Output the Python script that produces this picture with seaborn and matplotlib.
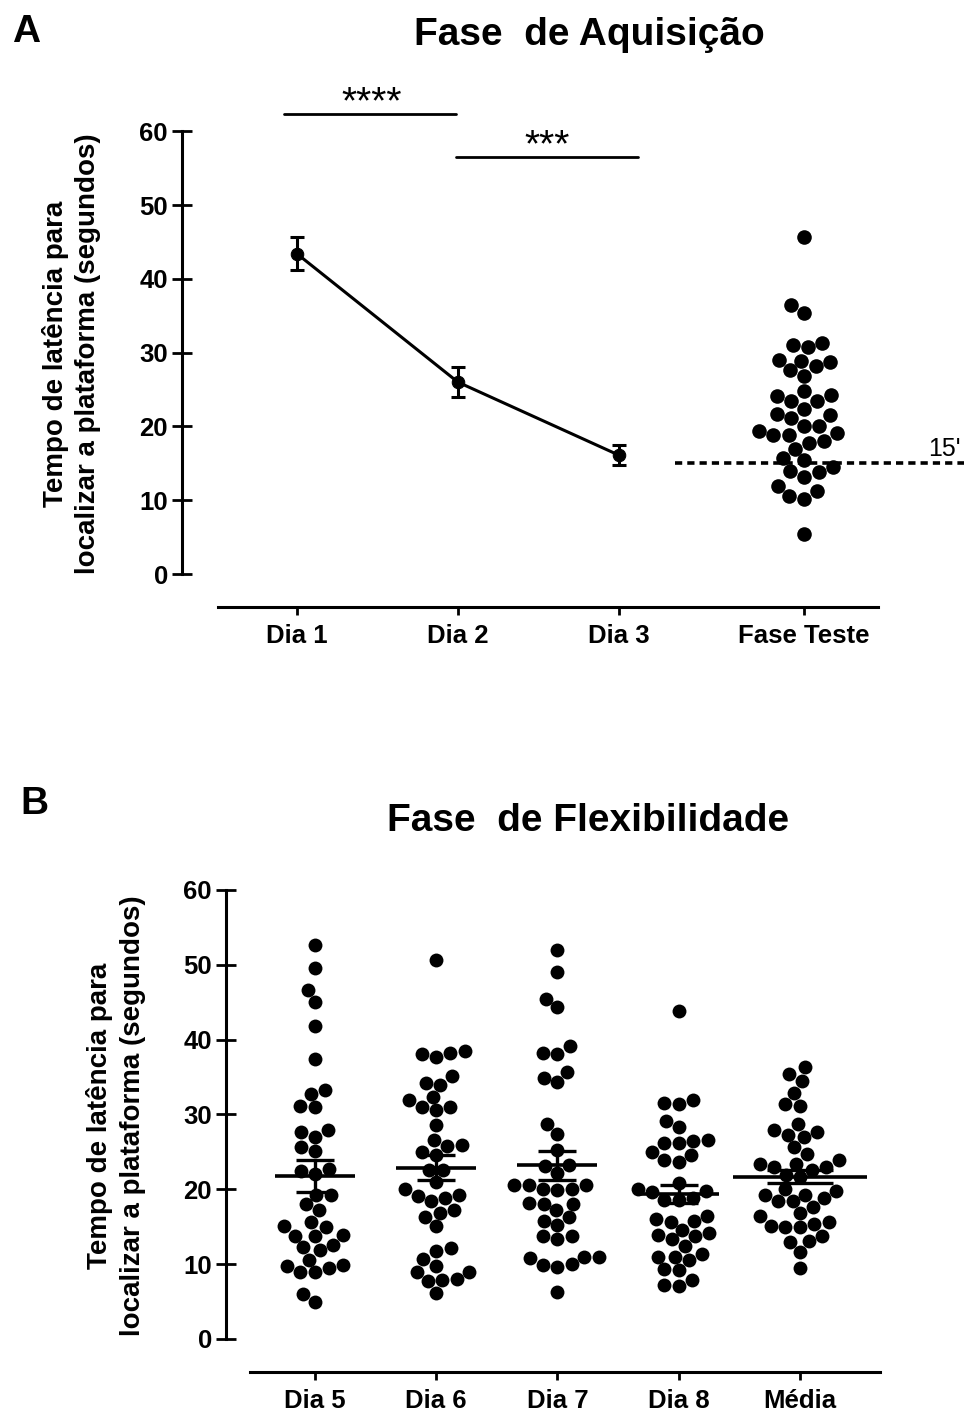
import numpy as np
import pandas as pd
import matplotlib
matplotlib.use("Agg")
import matplotlib.pyplot as plt
import seaborn as sns

# ---------------- data ----------------
acq_days = ["Dia 1", "Dia 2", "Dia 3"]
acq_mean = [43.4, 26.0, 16.1]
acq_sem = [2.25, 2.05, 1.35]
teste_label = "Fase Teste"
fase_teste = [45.7, 36.4, 35.4, 31.0, 30.7, 31.3, 28.9, 28.2, 26.9, 27.6, 28.7,
              29.0, 24.2, 23.4, 23.4, 24.1, 24.8, 21.7, 21.1, 21.5, 22.3, 20.0,
              20.1, 19.1, 18.8, 18.8, 19.4, 17.8, 18.0, 17.0, 15.4, 15.7, 13.9,
              13.2, 13.8, 14.5, 11.9, 10.6, 10.2, 11.2, 5.4]
criterio = 15

flex_days = ["Dia 5", "Dia 6", "Dia 7", "Dia 8", "Média"]
dia5 = [52.7, 49.6, 46.6, 45.0, 41.8, 37.4, 32.8, 33.3, 31.0, 31.1, 27.0, 27.9,
        27.6, 25.1, 25.6, 22.4, 22.1, 22.7, 19.3, 18.0, 19.3, 17.2, 15.1, 15.0,
        15.6, 13.9, 13.8, 13.8, 12.6, 11.9, 12.3, 10.6, 9.8, 9.0, 8.9, 9.5, 9.9,
        5.0, 6.0]
dia6 = [50.7, 38.2, 37.7, 38.1, 38.5, 34.2, 34.0, 35.1, 32.4, 31.0, 30.6, 31.0,
        31.9, 28.6, 25.9, 25.8, 26.6, 24.6, 25.0, 22.6, 22.6, 21.0, 19.3, 18.9,
        18.4, 19.1, 20.1, 16.9, 15.1, 16.3, 17.2, 12.1, 10.7, 9.8, 11.8, 8.9,
        7.9, 6.2, 7.7, 8.0, 9.0]
dia7 = [52.0, 49.1, 45.4, 44.3, 39.1, 38.1, 38.2, 34.9, 34.3, 35.7, 28.7, 27.4,
        25.3, 23.1, 23.3, 22.2, 20.6, 20.1, 19.9, 20.1, 20.6, 20.6, 18.1, 17.2,
        18.1, 18.2, 15.8, 16.3, 15.2, 13.8, 13.3, 13.7, 10.9, 10.8, 9.9, 9.6,
        10.0, 10.9, 6.3]
dia8 = [43.8, 31.6, 31.4, 32.0, 28.3, 29.1, 26.2, 26.6, 26.5, 26.2, 25.0, 23.9,
        23.7, 24.6, 19.8, 20.0, 20.8, 19.7, 18.8, 18.6, 18.6, 16.1, 16.4, 15.7,
        15.8, 14.2, 13.7, 13.9, 14.6, 13.3, 12.4, 11.4, 11.0, 10.5, 11.0, 9.3,
        9.2, 7.9, 7.1, 7.2]
media = [36.3, 35.4, 34.5, 32.9, 31.4, 31.2, 28.7, 27.7, 27.0, 27.3, 27.9, 25.6,
         24.7, 23.4, 23.0, 22.6, 23.0, 23.4, 23.9, 21.9, 21.6, 20.0, 19.3, 19.3,
         19.8, 18.4, 18.4, 18.9, 17.6, 16.4, 16.8, 15.6, 15.1, 14.9, 15.0, 15.4,
         13.1, 12.9, 13.7, 11.6, 9.5]
flex_mean = [21.8, 22.9, 23.2, 19.4, 21.7]
flex_sem = [2.1, 1.65, 1.9, 1.2, 0.9]

yticks = [0, 10, 20, 30, 40, 50, 60]
ylabel = "Tempo de latência para\nlocalizar a plataforma (segundos)"

# ---------------- style ----------------
sns.set_style("ticks")
plt.rcParams["font.family"] = ["Liberation Sans", "DejaVu Sans"]
for k in ("text.color", "axes.labelcolor", "xtick.color", "ytick.color",
          "axes.edgecolor"):
    plt.rcParams[k] = "black"
plt.rcParams["axes.linewidth"] = 2.2

W, H = 964, 1414
fig = plt.figure(figsize=(W / 100, H / 100), dpi=100)
TICK_FS = 18.5
LAB_FS = 20
TITLE_FS = 28

acq_x = [1, 2, 3]
teste_x = 4.15

# ---------------- panel A ----------------
axA = fig.add_axes([182 / W, 1 - 574 / H, (964 - 182) / W, 487 / H])
sns.lineplot(x=acq_x, y=acq_mean, ax=axA, color="black", lw=2.2,
             marker="o", markersize=9, markeredgecolor="black")
axA.errorbar(acq_x, acq_mean, yerr=acq_sem, fmt="none", ecolor="black",
             elinewidth=2.2, capsize=5, capthick=2.2, zorder=4)
sns.swarmplot(x=np.full(len(fase_teste), teste_x), y=fase_teste,
              native_scale=True, orient="x", ax=axA, color="black", size=10.5,
              warn_thresh=1)
axA.hlines(criterio, 3.35, 5.143, colors="black", lw=2.6,
           linestyles=(0, (2.0, 1.4)), clip_on=False, zorder=1)
axA.text(5.12, criterio + 1.0, "15'", ha="right", va="baseline",
         fontsize=18, clip_on=False)

# significance bars
axA.plot([0.92, 1.99], [62.3, 62.3], color="black", lw=2.0, clip_on=False)
axA.plot([1.99, 3.12], [56.5, 56.5], color="black", lw=2.0, clip_on=False)
axA.text(1.465, 62.4, "****", ha="center", va="baseline", fontsize=28,
         clip_on=False)
axA.text(2.555, 56.6, "***", ha="center", va="baseline", fontsize=28,
         clip_on=False)

axA.set_xlim(0.286, 5.143)
axA.set_ylim(0, 66)
axA.set_xticks(acq_x + [teste_x])
axA.set_xticklabels(acq_days + [teste_label])
axA.set_yticks(yticks)
axA.set_xlabel("")
axA.set_ylabel("")

# ---------------- panel B ----------------
axB = fig.add_axes([226 / W, 75 / H, (900 - 226) / W, 464 / H])
df = pd.DataFrame({
    "dia": (["Dia 5"] * len(dia5) + ["Dia 6"] * len(dia6) + ["Dia 7"] * len(dia7)
            + ["Dia 8"] * len(dia8) + ["Média"] * len(media)),
    "tempo": dia5 + dia6 + dia7 + dia8 + media,
})
sns.swarmplot(data=df, x="dia", y="tempo", order=flex_days, ax=axB,
              color="black", size=10, warn_thresh=1)
mean_half = [0.33, 0.33, 0.33, 0.33, 0.55]
cap_pt = [14, 14, 14, 14, 24]
for i in range(len(flex_days)):
    axB.errorbar(i, flex_mean[i], yerr=flex_sem[i], fmt="none", ecolor="black",
                 elinewidth=2.4, capsize=cap_pt[i], capthick=2.4, zorder=5)
    axB.hlines(flex_mean[i], i - mean_half[i], i + mean_half[i],
               colors="black", lw=2.6, zorder=5)
axB.set_xlim(-0.734, 4.825)
axB.set_ylim(0, 62)
axB.set_yticks(yticks)
axB.set_xlabel("")
axB.set_ylabel("")

# ---------------- common axis styling ----------------
for ax, xb in ((axA, (0.509, 4.609)), (axB, (-0.536, 4.66))):
    sns.despine(ax=ax)
    ax.spines["left"].set_bounds(0, 60)
    ax.spines["bottom"].set_bounds(*xb)
    ax.spines["bottom"].set_position(("outward", 23.8))
    ax.spines["left"].set_linewidth(2.2)
    ax.spines["bottom"].set_linewidth(2.2)
    ax.tick_params(axis="y", direction="inout", length=14.4, width=2.0,
                   pad=3, labelsize=TICK_FS, colors="black")
    ax.tick_params(axis="x", direction="out", length=6, width=2.0,
                   pad=6, labelsize=TICK_FS, colors="black")
    for lab in ax.get_xticklabels() + ax.get_yticklabels():
        lab.set_fontweight("bold")

# ---------------- texts ----------------
fig.text(72 / W, 1 - 354 / H, ylabel, rotation=90, ha="center", va="center",
         multialignment="center", fontsize=LAB_FS, fontweight="bold",
         linespacing=1.3)
fig.text(116 / W, 1 - 1116 / H, ylabel, rotation=90, ha="center", va="center",
         multialignment="center", fontsize=LAB_FS, fontweight="bold",
         linespacing=1.3)
fig.text(589 / W, 1 - 45 / H, "Fase  de Aquisição", ha="center",
         va="baseline", fontsize=TITLE_FS, fontweight="bold")
fig.text(588 / W, 1 - 831 / H, "Fase  de Flexibilidade", ha="center",
         va="baseline", fontsize=TITLE_FS, fontweight="bold")
fig.text(12 / W, 1 - 42 / H, "A", ha="left", va="baseline",
         fontsize=TITLE_FS, fontweight="bold")
fig.text(20 / W, 1 - 814 / H, "B", ha="left", va="baseline",
         fontsize=TITLE_FS, fontweight="bold")

fig.savefig("out.png", dpi=100, facecolor="white")
